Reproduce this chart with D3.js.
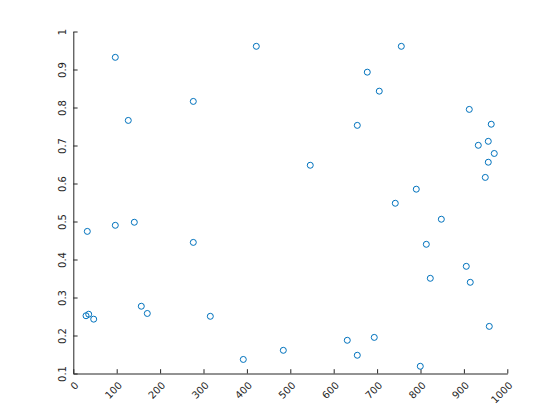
<!DOCTYPE html>
<html>
<head>
<meta charset="utf-8">
<script src="https://cdn.jsdelivr.net/npm/d3@7"></script>
<style>
  html, body { margin: 0; padding: 0; background: #fff; }
  svg { display: block; }
  text { font-family: "DejaVu Sans", sans-serif; font-size: 10px; fill: #262626; }
</style>
</head>
<body>
<svg id="chart" width="560" height="420"></svg>
<script>
const xValues = [96.8, 126.7, 276.5, 421.7, 32.3, 96.8, 140.6, 276.5, 29.3, 35.5,
  47.0, 156.7, 170.5, 315.7, 391.7, 755.8, 677.4, 705.0, 912.4, 654.4,
  963.0, 956.2, 933.2, 970.0, 956.2, 949.3, 546.0, 790.3, 741.9, 848.0,
  813.4, 905.5, 822.6, 914.7, 958.5, 483.9, 631.3, 693.5, 654.4, 799.5];
const yValues = [0.932, 0.766, 0.816, 0.961, 0.474, 0.490, 0.498, 0.445, 0.252, 0.256,
  0.243, 0.277, 0.258, 0.2505, 0.137, 0.961, 0.893, 0.843, 0.795, 0.753,
  0.756, 0.711, 0.7005, 0.679, 0.656, 0.616, 0.648, 0.585, 0.548, 0.506,
  0.440, 0.382, 0.3505, 0.340, 0.224, 0.161, 0.1874, 0.195, 0.148, 0.119];
const xTicks = [0, 100, 200, 300, 400, 500, 600, 700, 800, 900, 1000];
const yTicks = [0.1, 0.2, 0.3, 0.4, 0.5, 0.6, 0.7, 0.8, 0.9, 1];

const svg = d3.select("#chart");
const mLeft = 73.3, mRight = 507.3, mTop = 31.5, mBottom = 373.5;
const axisColor = "#262626";
const x = d3.scaleLinear().domain([0, 1000]).range([mLeft, mRight]);
const y = d3.scaleLinear().domain([0.1, 1]).range([mBottom, mTop]);

// x axis
const gx = svg.append("g").attr("transform", `translate(0,${mBottom})`)
  .call(d3.axisBottom(x).tickValues(xTicks).tickSizeInner(-4.3).tickSizeOuter(0).tickFormat(d3.format("d")));
gx.select(".domain").attr("stroke", axisColor);
gx.selectAll(".tick line").attr("stroke", axisColor);
gx.selectAll(".tick text")
  .attr("y", 0).attr("dy", "0.35em")
  .attr("text-anchor", "end")
  .attr("transform", "translate(3,10) rotate(-45)")
  .attr("fill", axisColor);

// y axis
const gy = svg.append("g").attr("transform", `translate(${mLeft},0)`)
  .call(d3.axisLeft(y).tickValues(yTicks).tickSizeInner(-4.3).tickSizeOuter(0).tickFormat(d => String(+d.toFixed(1))));
gy.select(".domain").attr("stroke", axisColor);
gy.selectAll(".tick line").attr("stroke", axisColor);
gy.selectAll(".tick text")
  .attr("x", 0).attr("dy", 0)
  .attr("text-anchor", "middle")
  .attr("transform", "translate(-7,0) rotate(-90)")
  .attr("fill", axisColor);
svg.selectAll(".tick text").style("font-family", "DejaVu Sans").style("font-size", "10px");

// points
const data = xValues.map((v, i) => ({ x: v, y: yValues[i] }));
svg.append("g").selectAll("circle").data(data).join("circle")
  .attr("cx", d => x(d.x)).attr("cy", d => y(d.y)).attr("r", 3)
  .attr("fill", "none").attr("stroke", "#0072BD").attr("stroke-width", 1);
</script>
</body>
</html>
